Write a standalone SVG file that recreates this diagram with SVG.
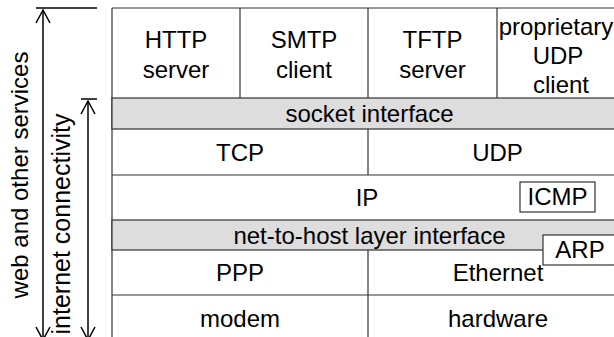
<svg xmlns="http://www.w3.org/2000/svg" width="614" height="337" viewBox="0 0 614 337">
<style>
.ln{stroke:#333;stroke-width:1.2;fill:none}
.band{fill:#dddddd;stroke:#333;stroke-width:1.2}
.box{fill:#fff;stroke:#333;stroke-width:1.2}
text{font-family:"Liberation Sans",Arial,sans-serif;font-size:24px;fill:#000;text-anchor:middle}
.arr{stroke:#000;stroke-width:1.5;fill:none}
</style>
<rect width="614" height="337" fill="#fff"/>
<g id="table-lines">
<line class="ln" x1="112" y1="8" x2="630" y2="8"/>
<line class="ln" x1="112" y1="8" x2="112" y2="345"/>
<line class="ln" x1="240" y1="8" x2="240" y2="98"/>
<line class="ln" x1="368" y1="8" x2="368" y2="98"/>
<line class="ln" x1="497" y1="8" x2="497" y2="98"/>
<line class="ln" x1="368" y1="129" x2="368" y2="175"/>
<line class="ln" x1="112" y1="175" x2="630" y2="175"/>
<line class="ln" x1="368" y1="250" x2="368" y2="345"/>
<line class="ln" x1="112" y1="295" x2="630" y2="295"/>
</g>
<g id="http"><text x="176" y="48">HTTP</text><text x="176" y="77.5">server</text></g>
<g id="smtp"><text x="304" y="48">SMTP</text><text x="304" y="77.5">client</text></g>
<g id="tftp"><text x="432.5" y="48">TFTP</text><text x="432.5" y="77.5">server</text></g>
<g id="proprietary"><text x="556" y="35">proprietary</text><text x="558" y="64">UDP</text><text x="561" y="93">client</text></g>
<g id="socket"><rect class="band" x="112" y="98" width="520" height="31"/><text x="369.5" y="122">socket interface</text></g>
<g id="tcp"><text x="240" y="161">TCP</text></g>
<g id="udp"><text x="497.5" y="161">UDP</text></g>
<g id="ip"><text x="367" y="206">IP</text></g>
<g id="icmp"><rect class="box" x="520" y="182" width="75" height="30"/><text x="557.5" y="205">ICMP</text></g>
<g id="net-to-host"><rect class="band" x="112" y="220" width="520" height="30"/><text x="369.5" y="243.5">net-to-host layer interface</text></g>
<g id="ppp"><text x="240" y="281">PPP</text></g>
<g id="ethernet"><text x="498" y="281">Ethernet</text></g>
<g id="arp"><rect class="box" x="543" y="235" width="75" height="30"/><text x="580" y="258">ARP</text></g>
<g id="modem"><text x="240" y="327">modem</text></g>
<g id="hardware"><text x="498" y="327">hardware</text></g>
<g id="connectors">
<line class="arr" x1="36" y1="8" x2="97" y2="8"/>
<line class="arr" x1="43" y1="10" x2="43" y2="340"/>
<polyline class="arr" points="36,23 43,10 50,23"/>
<polyline class="arr" points="36,327 43,340 50,327"/>
<line class="arr" x1="81" y1="99" x2="97" y2="99"/>
<line class="arr" x1="88" y1="101" x2="88" y2="340"/>
<polyline class="arr" points="81,114 88,101 95,114"/>
<polyline class="arr" points="81,327 88,340 95,327"/>
</g>
<g id="label-web"><text transform="translate(28,175) rotate(-90)">web and other services</text></g>
<g id="label-internet"><text transform="translate(70,224) rotate(-90)" style="font-size:25px">internet connectivity</text></g>
</svg>
